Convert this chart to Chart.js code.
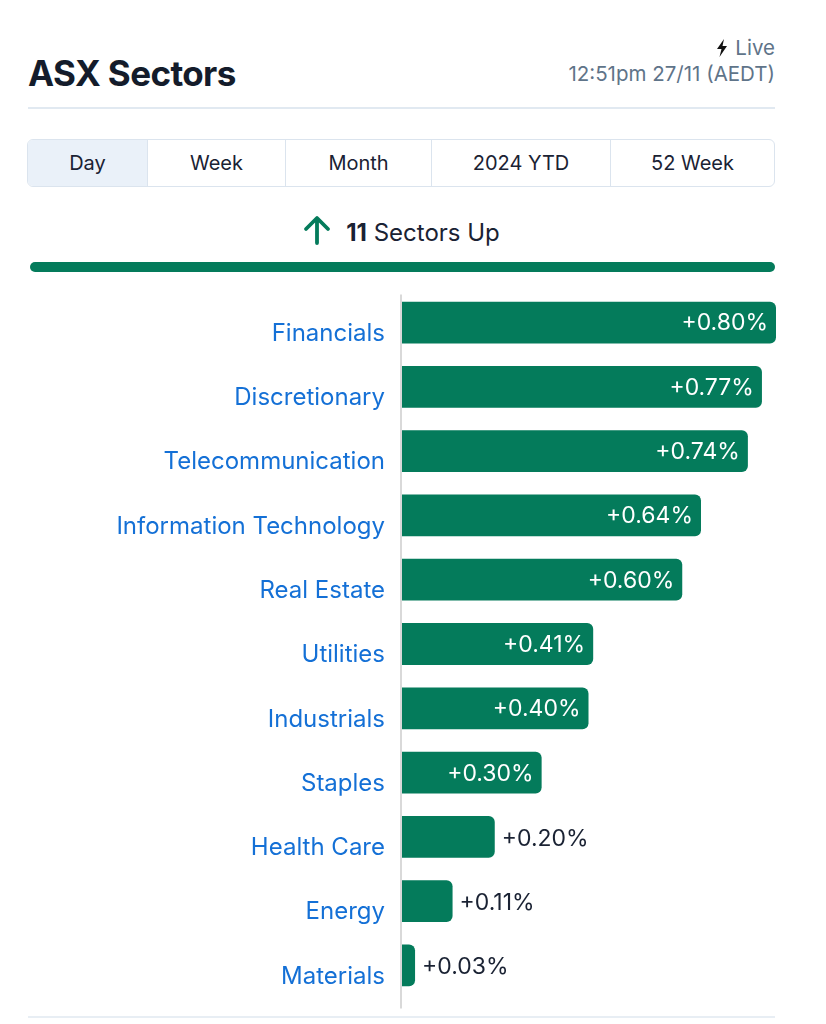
<!DOCTYPE html>
<html>
<head>
<meta charset="utf-8">
<script src="https://cdn.jsdelivr.net/npm/chart.js@4"></script>
<style>
  html, body { margin: 0; padding: 0; background: #fff; }
  body { width: 826px; height: 1024px; position: relative; font-family: Inter, "Noto Sans", sans-serif; color: #1a2233; overflow: hidden; }
  .title { position: absolute; left: 28px; top: 52px; font-size: 35px; font-weight: 700; letter-spacing: -0.6px; color: #141c2b; line-height: 42px; }
  .live { position: absolute; right: 51px; top: 35px; font-size: 20.5px; color: #5f7489; text-align: right; line-height: 26px; }
  .live svg { vertical-align: -2px; margin-right: 7px; }
  .divider { position: absolute; left: 28px; width: 747px; height: 2px; background: #e1e9f1; }
  .tabs { position: absolute; left: 27px; top: 139px; width: 746px; height: 46px; border: 1px solid #dbe4ee; border-radius: 6px; display: flex; overflow: hidden; }
  .tabs div { display: flex; align-items: center; justify-content: center; font-size: 20px; color: #1a2233; border-left: 1px solid #dbe4ee; }
  .tabs div:first-child { border-left: none; background: #eaf1f9; }
  .summary { position: absolute; left: 28px; width: 747px; top: 215px; text-align: center; font-size: 24px; color: #1a2233; }
  .summary b { font-weight: 700; }
  .summary svg { vertical-align: -4px; margin-right: 15px; }
  .upbar { position: absolute; left: 30px; top: 262px; width: 745px; height: 10px; border-radius: 5px; background: #047b5b; }
  .chart { position: absolute; left: 0; top: 260px; width: 776px; height: 768px; }
</style>
</head>
<body>
<div class="title">ASX Sectors</div>
<div class="live">
  <div><svg width="12" height="18" viewBox="0 0 12 18"><path d="M8 0 L1 10 L5.5 10 L3.5 18 L11 7 L6.5 7 Z" fill="#111"/></svg>Live</div>
  <div>12:51pm 27/11 (AEDT)</div>
</div>
<div class="divider" style="top:107px"></div>
<div class="tabs">
  <div style="width:119px">Day</div>
  <div style="width:137px">Week</div>
  <div style="width:145px">Month</div>
  <div style="width:178px">2024 YTD</div>
  <div style="flex:1">52 Week</div>
</div>
<div class="summary"><svg width="28" height="30" viewBox="0 0 28 30"><path d="M14 28 V4 M3 14 L14 3 L25 14" stroke="#047b5b" stroke-width="3.8" fill="none" stroke-linecap="round" stroke-linejoin="round"/></svg><b>11</b> Sectors Up</div>
<div class="upbar"></div>
<div class="chart"><canvas id="sectors"></canvas></div>
<div class="divider" style="top:1016px; height:2px; background:#e8eef4"></div>

<script>
const sectors = ['Financials', 'Discretionary', 'Telecommunication', 'Information Technology', 'Real Estate',
  'Utilities', 'Industrials', 'Staples', 'Health Care', 'Energy', 'Materials'];
const changes = [0.80, 0.77, 0.74, 0.64, 0.60, 0.41, 0.40, 0.30, 0.20, 0.11, 0.03];

const green = '#047b5b';

// value labels: inside the bar when it is wide enough, else just after it
const valueLabels = {
  id: 'valueLabels',
  afterDatasetsDraw(chart) {
    const ctx = chart.ctx;
    const meta = chart.getDatasetMeta(0);
    ctx.save();
    ctx.font = '23px Inter, "Noto Sans", sans-serif';
    ctx.textBaseline = 'middle';
    meta.data.forEach((bar, i) => {
      const text = '+' + changes[i].toFixed(2) + '%';
      const w = ctx.measureText(text).width;
      const barW = bar.x - bar.base;
      if (barW > w + 20) {
        ctx.fillStyle = '#ffffff';
        ctx.textAlign = 'right';
        ctx.fillText(text, bar.x - 8, bar.y + 1);
      } else {
        ctx.fillStyle = '#1a2233';
        ctx.textAlign = 'left';
        ctx.fillText(text, bar.x + 7, bar.y + 2);
      }
    });
    // axis line
    const a = chart.chartArea;
    ctx.strokeStyle = '#d9d9d9';
    ctx.lineWidth = 2;
    ctx.beginPath();
    ctx.moveTo(a.left, a.top + 4);
    ctx.lineTo(a.left, a.bottom + 11);
    ctx.stroke();
    ctx.restore();
  }
};

new Chart(document.getElementById('sectors'), {
  type: 'bar',
  data: {
    labels: sectors,
    datasets: [{
      data: changes,
      backgroundColor: green,
      borderWidth: 0,
      borderRadius: 6,
      borderSkipped: 'start',
      categoryPercentage: 1,
      barPercentage: 0.65
    }]
  },
  options: {
    indexAxis: 'y',
    responsive: true,
    maintainAspectRatio: false,
    animation: false,
    layout: { padding: 0 },
    plugins: {
      legend: { display: false },
      tooltip: { enabled: false }
    },
    scales: {
      x: {
        display: false,
        min: 0,
        max: 0.80
      },
      y: {
        grid: { display: false, drawTicks: false },
        border: { display: false },
        afterFit(scale) { scale.width = 401; },
        ticks: {
          color: '#1470d6',
          padding: 16,
          labelOffset: 11,
          font: { family: 'Inter, "Noto Sans", sans-serif', size: 24 }
        }
      }
    }
  },
  plugins: [valueLabels]
});
</script>
</body>
</html>
